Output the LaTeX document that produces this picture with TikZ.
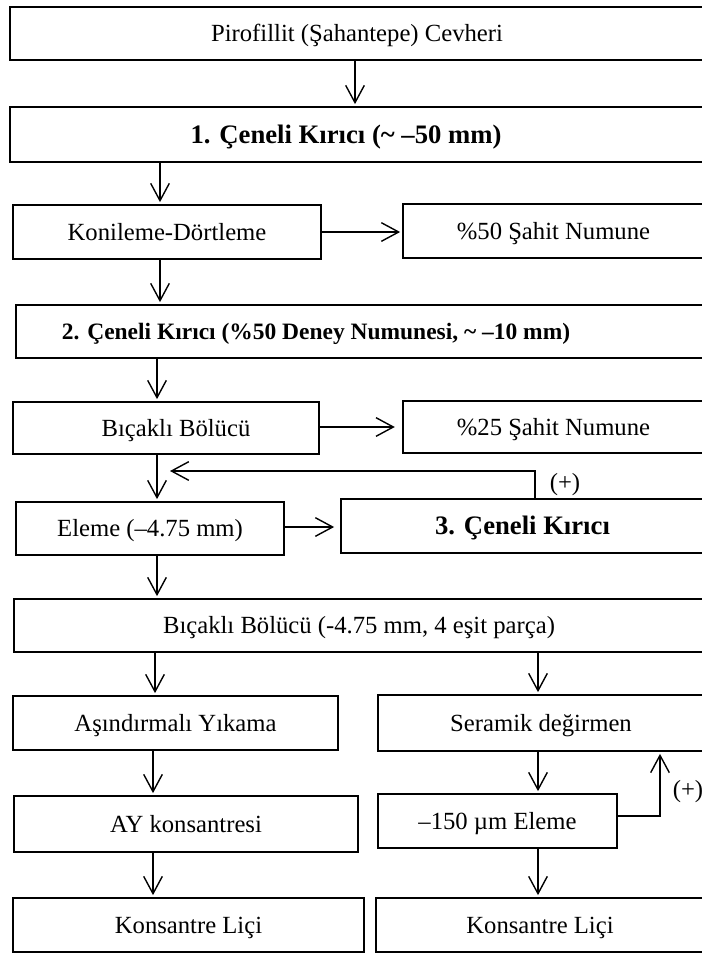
\documentclass[tikz,border=0pt]{standalone}
\usepackage{fontspec}
\setmainfont{Liberation Serif}
\usetikzlibrary{arrows.meta}
\tikzset{
  box/.style={draw, line width=1.3pt, inner sep=0pt, text height=12.3pt, text depth=0pt, font=\fontsize{18.5}{22}\selectfont},
  txt/.style={inner sep=0pt, text height=12.3pt, text depth=0pt, font=\fontsize{18.5}{22}\selectfont},
  bld/.style={font=\fontsize{20}{24}\selectfont\bfseries, text height=13.3pt},
  bldsm/.style={font=\fontsize{17.6}{21}\selectfont\bfseries, text height=11.7pt},
  arr/.style={line width=1.05pt, -{Straight Barb[length=13pt,width=14pt,line width=1.05pt]}, shorten >=1.5pt}
}
\newcommand\flbox[7][]{%
  \pgfmathsetmacro\cx{(#3+#5)/2}\pgfmathsetmacro\cy{(#4+#6)/2}%
  \pgfmathsetmacro\ww{(#5-#3)*0.75}\pgfmathsetmacro\hh{(#6-#4)*0.75}%
  \node[box,#1,minimum width=\ww pt,minimum height=\hh pt] (#2) at (\cx,\cy) {#7};}
\begin{document}
\begin{tikzpicture}[x=0.75pt,y=-0.75pt]
\useasboundingbox (0,0) rectangle (702,954);
\flbox{A}{10}{7}{704}{60}{Pirofillit (Şahantepe) Cevheri}
\flbox{B}{10}{107}{704}{162}{}
\node[txt,bld] (Bt) at (346,134.5) {1. Çeneli Kırıcı (\textasciitilde\ –50 mm)};
\flbox{C}{13}{205}{321}{259}{Konileme-Dörtleme}
\flbox{D}{403}{204}{704}{258}{\%50 Şahit Numune}
\flbox{E}{16}{305}{704}{358}{}
\node[txt,bldsm] (Et) at (316,331.5) {2. Çeneli Kırıcı (\%50 Deney Numunesi, \textasciitilde\ –10 mm)};
\flbox{F}{13}{402}{319}{454}{}
\node[txt] (Ft) at (176,428) {Bıçaklı Bölücü};
\flbox{G}{403}{401}{704}{453}{\%25 Şahit Numune}
\flbox{H}{16}{502}{284}{555}{Eleme (–4.75 mm)}
\flbox[bld]{K}{341}{499}{704}{553}{3. Çeneli Kırıcı}
\flbox{I}{14}{599}{704}{652}{Bıçaklı Bölücü (-4.75 mm, 4 eşit parça)}
\flbox{J}{13}{696}{338}{750}{Aşındırmalı Yıkama}
\flbox{S}{378}{695}{704}{751}{Seramik değirmen}
\flbox{AY}{14}{796}{358}{852}{AY konsantresi}
\flbox{M}{378}{794}{617}{848}{–150 µm Eleme}
\flbox{KL}{13}{898}{364}{952}{Konsantre Liçi}
\flbox{KR}{376}{898}{704}{952}{Konsantre Liçi}
% columns
\coordinate (x355) at (355,0);
\coordinate (x160) at (160,0);
\coordinate (x157) at (157,0);
\coordinate (x155) at (155,0);
\coordinate (x153) at (153,0);
\coordinate (x538) at (538,0);
\coordinate (y232) at (0,232);
\coordinate (y427) at (0,427);
\coordinate (y527) at (0,527);
% main chain
\draw[arr] (A.south -| x355) -- (B.north -| x355);
\draw[arr] (B.south -| x160) -- (C.north -| x160);
\draw[arr] (C.east |- y232) -- (D.west |- y232);
\draw[arr] (C.south -| x160) -- (E.north -| x160);
\draw[arr] (E.south -| x157) -- (F.north -| x157);
\draw[arr] (F.east |- y427) -- ([xshift=-4pt]G.west |- y427);
\draw[arr] (F.south -| x157) -- (H.north -| x157);
\draw[arr] (H.east |- y527) -- ([xshift=-3pt]K.west |- y527);
\draw[arr] (H.south -| x157) -- (I.north -| x157);
% feedback 1
\coordinate (fbA) at (535,471);
\coordinate (fbB) at (168,471);
\draw[arr] (K.north -| fbA) -- (fbA) -- (fbB);
\node[txt] (p1) at (565,482) {(+)};
% split
\draw[arr] (I.south -| x155) -- (J.north -| x155);
\draw[arr] (I.south -| x538) -- (S.north -| x538);
\draw[arr] (J.south -| x153) -- (AY.north -| x153);
\draw[arr] (AY.south -| x153) -- (KL.north -| x153);
\draw[arr] (S.south -| x538) -- (M.north -| x538);
\draw[arr] (M.south -| x538) -- (KR.north -| x538);
% feedback 2
\coordinate (fbC) at (660,816);
\draw[arr] (M.east |- fbC) -- (fbC) -- (S.south -| fbC);
\node[txt] (p2) at (688,789) {(+)};
\end{tikzpicture}
\end{document}
